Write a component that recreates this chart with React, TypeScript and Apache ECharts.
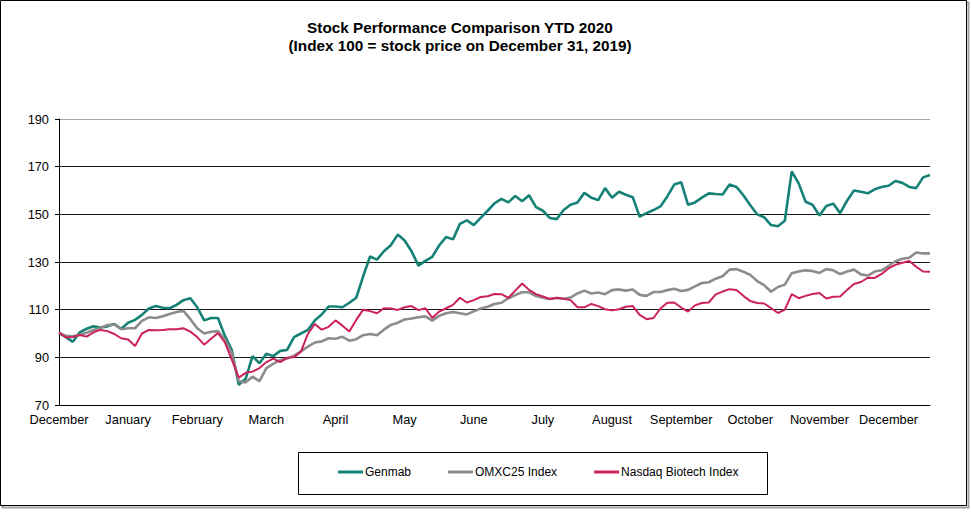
import React, { useEffect, useRef } from 'react';
import * as echarts from 'echarts';

// Month tick labels (one every 20 trading days; data sampled every 2nd trading day)
const monthLabels = [
  'December', 'January', 'February', 'March', 'April', 'May', 'June',
  'July', 'August', 'September', 'October', 'November', 'December',
];

// Index 100 = price on Dec 31, 2019
const genmab = [
  100.3, 98.5, 96.5, 100.5, 102, 103, 102.5, 103, 104, 102,
  104.5, 105.7, 107.8, 110.5, 111.5, 110.8, 110.6, 112, 114, 114.8,
  111, 105.5, 106.5, 106.5, 99, 93, 78.5, 81, 90.5, 87.5,
  91.5, 90.5, 92.7, 93.1, 98.5, 100, 101.5, 105.5, 108, 111.3,
  111.3, 111, 112.9, 115, 124, 132.3, 131, 134.5, 137, 141.5,
  139, 134.5, 128.5, 130.5, 132.2, 137, 140.5, 139.5, 146, 147.5,
  145.5, 148.5, 151.5, 154.6, 156.5, 155, 157.7, 155.5, 158, 153,
  151.5, 148.5, 148, 151.8, 154, 155, 159, 157, 156, 161,
  157, 159.5, 158.2, 157.2, 149, 150.5, 151.8, 153.3, 157.5, 162.5,
  163.5, 154, 155, 157, 158.8, 158.5, 158.3, 162.5, 161.5, 158,
  153.8, 150, 148.8, 145.5, 145, 147.3, 168, 163, 155.3, 154,
  149.5, 153.5, 154.5, 150.5, 155.7, 160, 159.5, 158.8, 160.5, 161.5,
  162, 164, 163.2, 161.5, 161, 165.5, 166.5,
];

const omxc25 = [
  100.3, 99, 98.8, 99.5, 100.3, 101.5, 102.4, 103.5, 103.8, 101.8,
  102.2, 102.2, 105.3, 106.8, 106.5, 107.2, 108.2, 109, 109.5, 106,
  102.2, 100, 100.7, 101, 97.5, 91.7, 80, 79.5, 81.9, 80,
  85.5, 87.3, 88.9, 89.5, 90.7, 92.5, 94.5, 96.2, 96.7, 98,
  97.8, 98.6, 97, 97.6, 99.3, 99.8, 99.3, 101.6, 103.6, 104.5,
  105.9, 106.3, 106.8, 107.2, 105.4, 107.4, 108.5, 109, 108.5, 108,
  109.3, 110.5, 111.2, 112.4, 112.9, 114.8, 116.1, 117.3, 117.3, 115.7,
  115, 114.5, 114.9, 114.6, 115.1, 116.8, 118, 116.8, 117.2, 116.5,
  118.2, 118.5, 118, 118.5, 116.2, 115.8, 117.4, 117.4, 118.2, 118.8,
  117.8, 118.3, 119.8, 121.2, 121.5, 123, 124, 126.8, 127, 125.9,
  124.6, 122, 120.3, 117.5, 119.5, 120.5, 125.3, 126, 126.5, 126.2,
  125.4, 127, 126.5, 124.9, 126, 126.8, 124.8, 124.3, 126, 126.5,
  128.3, 130.3, 131.4, 131.8, 134, 133.6, 133.6,
];

const nasdaqBiotech = [
  100.3, 98.4, 98.5, 99.4, 98.7, 100.5, 101.5, 101, 99.8, 98,
  97.5, 94.8, 100, 101.5, 101.4, 101.5, 101.8, 101.8, 102.2, 100.8,
  98.5, 95.3, 97.8, 100.2, 96.3, 89, 81.5, 83.5, 84, 85.5,
  88, 89.5, 88, 89.8, 90, 92.4, 99.8, 104, 101.6, 102.8,
  105.5, 103.3, 100.8, 105.7, 110, 109.4, 108.5, 110.6, 110.5, 109.9,
  111, 111.5, 109.8, 110.6, 106.5, 109.2, 110.6, 112, 115, 113,
  114, 115.3, 115.6, 116.6, 116.5, 114.9, 118, 121, 118.3, 116.5,
  115.5, 114.5, 115, 114.6, 114, 111, 111, 112.4, 111.5, 110.2,
  109.7, 110.2, 111.2, 111.5, 107.8, 106, 106.5, 110.5, 112.9, 113,
  110.9, 109.2, 111.8, 112.8, 113, 116.4, 117.6, 118.6, 118.3, 115.8,
  113.6, 112.8, 112.6, 110.7, 108.6, 110, 116.5, 114.8, 115.8, 116.6,
  117, 114.7, 115.4, 115.5, 118.3, 120.8, 121.6, 123.4, 123.3, 125,
  127.3, 128.8, 129.7, 130.4, 128, 126, 125.9,
];

const seriesNames = ['Genmab', 'OMXC25 Index', 'Nasdaq Biotech Index'];
const tradingDays = genmab.map((_, i) => String(i));

const FONT = '"Liberation Sans", Arial, Helvetica, sans-serif';

export default function App() {
  const ref = useRef<HTMLDivElement>(null);

  useEffect(() => {
    if (!ref.current) return;
    const chart = echarts.init(ref.current, undefined, { renderer: 'svg' });
    chart.setOption({
      animation: false,
      backgroundColor: '#ffffff',
      grid: {
        left: 59,
        right: 41,
        top: 119,
        bottom: 108,
        show: true,
        borderColor: '#a6a6a6',
        borderWidth: 1,
      },
      graphic: [
        {
          type: 'rect',
          shape: { x: 2.5, y: 2.5, width: 966, height: 505 },
          style: { fill: 'none', stroke: '#a0a0a0', lineWidth: 2 },
          z: 0,
        },
        {
          type: 'rect',
          shape: { x: 0.5, y: 0.5, width: 966, height: 505 },
          style: { fill: '#fff', stroke: '#000', lineWidth: 1 },
          z: 0,
        },
        {
          type: 'text',
          x: 460,
          y: 27,
          z: 10,
          style: {
            text: 'Stock Performance Comparison YTD 2020',
            fontSize: 15.3,
            fontWeight: 'bold',
            fontFamily: FONT,
            fill: '#000',
            align: 'center',
            verticalAlign: 'middle',
          },
        },
        {
          type: 'text',
          x: 460,
          y: 45,
          z: 10,
          style: {
            text: '(Index 100 = stock price on December 31, 2019)',
            fontSize: 15.3,
            fontWeight: 'bold',
            fontFamily: FONT,
            fill: '#000',
            align: 'center',
            verticalAlign: 'middle',
          },
        },
        {
          type: 'rect',
          shape: { x: 298.5, y: 452.5, width: 469, height: 42 },
          style: { fill: 'none', stroke: '#000', lineWidth: 1 },
          z: 10,
        },
      ],
      legend: {
        data: seriesNames,
        left: 338,
        top: 466,
        padding: 0,
        icon: 'rect',
        itemWidth: 25,
        itemHeight: 3,
        itemGap: 37,
        textStyle: {
          fontSize: 12,
          fontFamily: FONT,
          color: '#000',
          padding: [0, 0, 0, -3],
        },
      },
      xAxis: {
        type: 'category',
        data: tradingDays,
        boundaryGap: false,
        axisLine: { show: true, lineStyle: { color: '#000', width: 1 } },
        axisTick: { show: false },
        splitLine: { show: false },
        axisLabel: {
          interval: 9,
          margin: 8,
          fontSize: 12.8,
          fontFamily: FONT,
          color: '#000',
          formatter: (_v: string, idx: number) => monthLabels[idx / 10] ?? '',
        },
      },
      yAxis: {
        type: 'value',
        min: 70,
        max: 190,
        interval: 20,
        axisLine: { show: true, lineStyle: { color: '#000', width: 1 } },
        axisTick: { show: true, length: 4, lineStyle: { color: '#000' } },
        axisLabel: {
          margin: 10,
          fontSize: 12.8,
          fontFamily: FONT,
          color: '#000',
        },
        splitLine: {
          show: true,
          lineStyle: {
            color: ['#000', '#1a1a1a', '#1a1a1a', '#1a1a1a', '#1a1a1a', '#1a1a1a', '#a6a6a6'],
            width: 1,
          },
        },
      },
      series: [
        {
          name: seriesNames[0],
          type: 'line',
          data: genmab,
          symbol: 'none',
          lineStyle: { color: '#168276', width: 2.6 },
          itemStyle: { color: '#168276' },
          z: 2,
        },
        {
          name: seriesNames[1],
          type: 'line',
          data: omxc25,
          symbol: 'none',
          lineStyle: { color: '#8c8c8c', width: 2.6 },
          itemStyle: { color: '#8c8c8c' },
          z: 3,
        },
        {
          name: seriesNames[2],
          type: 'line',
          data: nasdaqBiotech,
          symbol: 'none',
          lineStyle: { color: '#cc2159', width: 2 },
          itemStyle: { color: '#cc2159' },
          z: 4,
        },
      ],
    });
    return () => chart.dispose();
  }, []);

  return (
    <div
      ref={ref}
      style={{ position: 'absolute', left: 0, top: 0, width: 971, height: 513 }}
    />
  );
}
